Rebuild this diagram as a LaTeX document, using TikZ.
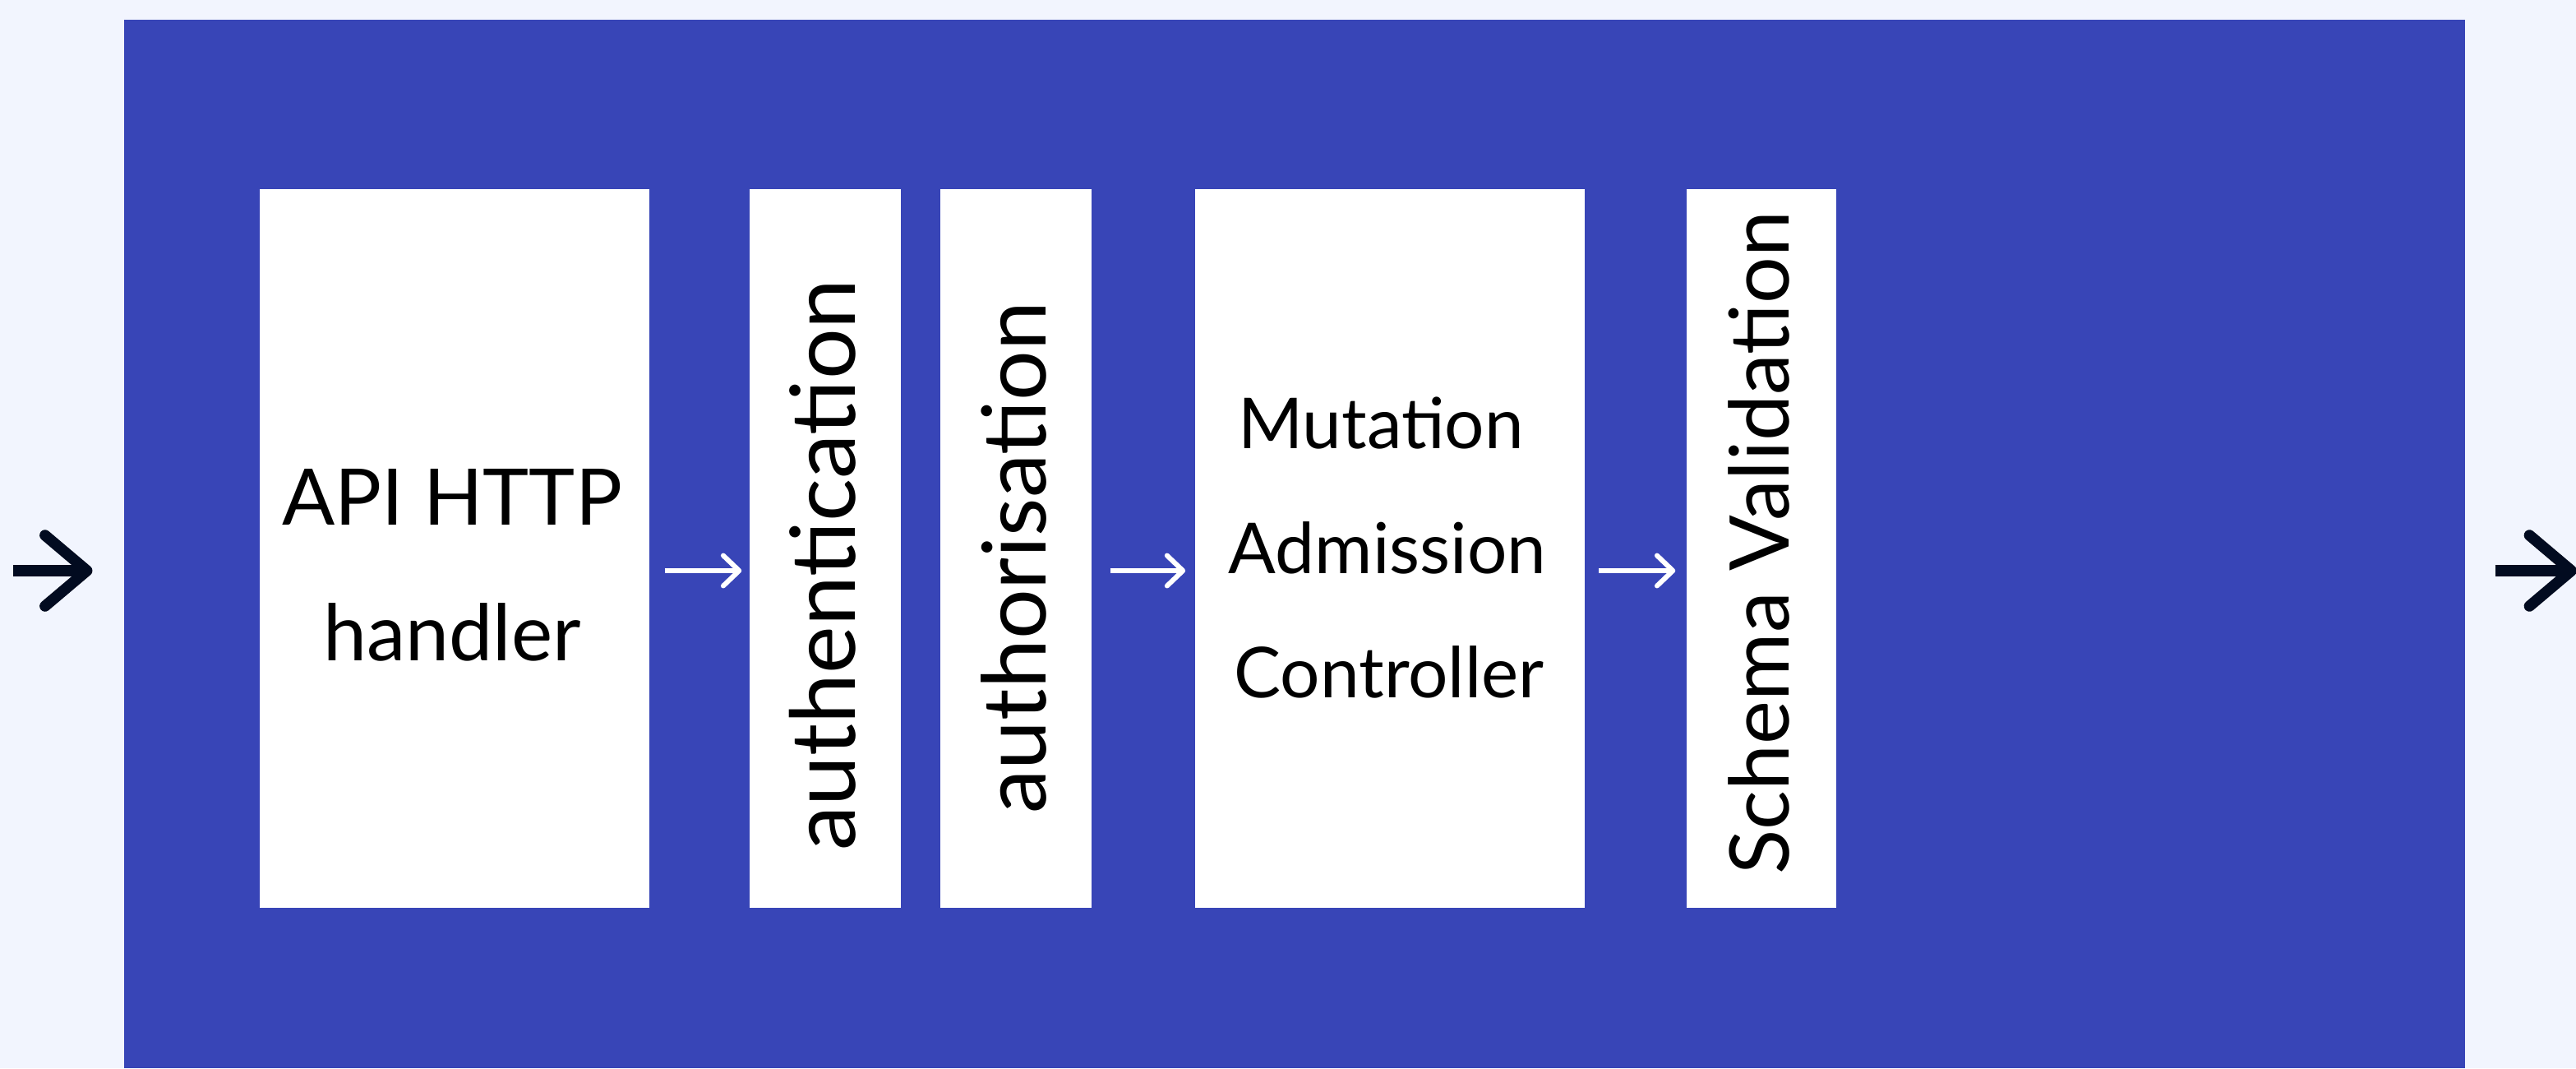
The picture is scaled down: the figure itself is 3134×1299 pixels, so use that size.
\documentclass[tikz,border=0pt]{standalone}
\usepackage{fontspec}
\setmainfont{Lato}
\usetikzlibrary{arrows.meta,calc}
\definecolor{pagebg}{HTML}{F2F5FE}
\definecolor{panel}{HTML}{3845B7}
\definecolor{ink}{HTML}{020B20}
\tikzset{
  stage/.style={fill=white, draw=none, inner sep=0pt, minimum height=8.74cm},
  widestage/.style={stage, minimum width=4.74cm},
  slimstage/.style={stage, minimum width=1.84cm},
  flow/.style={white, line width=1.7pt, -{Straight Barb[length=5.5pt,width=10.5pt,round]}},
  bigflow/.style={ink, line width=3.8pt, -{Straight Barb[length=14.5pt,width=24.5pt,round]}},
  hlabel/.style={inner sep=0pt, anchor=base, text=black},
  vlabel/.style={inner sep=0pt, rotate=90, text=black},
}
\begin{document}
\begin{tikzpicture}[x=0.01cm, y=-0.01cm]
  % page and panel
  \useasboundingbox[fill=pagebg] (0,0) rectangle (3134,1299);
  \node[fill=panel, inner sep=0pt, minimum width=28.46cm, minimum height=12.75cm] (frame) at (1575,661.5) {};

  % pipeline stages
  \node[widestage] (api) at (553,667) {};
  \node[slimstage] (authn) at (1004,667) {};
  \node[slimstage] (authz) at (1236,667) {};
  \node[widestage] (mac) at (1691,667) {};
  \node[stage, minimum width=1.82cm] (schema) at (2143,667) {};

  % stage labels
  \node[hlabel, font=\fontsize{27}{32}\selectfont] (apiA) at (550,638) {API HTTP};
  \node[hlabel, font=\fontsize{27}{32}\selectfont] (apiB) at (550,803) {handler};
  \node[hlabel, font=\fontsize{24.3}{28}\selectfont] (macA) at (1680,545) {Mutation};
  \node[hlabel, font=\fontsize{24.3}{28}\selectfont] (macB) at (1688,697) {Admission};
  \node[hlabel, font=\fontsize{24.3}{28}\selectfont] (macC) at (1690,848) {Controller};
  \node[vlabel, font=\fontsize{31}{36}\selectfont] (authnT) at (1001,687) {authentication};
  \node[vlabel, font=\fontsize{30.5}{36}\selectfont] (authzT) at (1233,678) {authorisation};
  \node[vlabel, font=\fontsize{28.5}{34}\selectfont] (schemaT) at (2140,660) {Schema Validation};

  % connectors between stages
  \draw[flow] ($(api.east)+(18,27)$) -- ($(authn.west)+(-9,27)$);
  \draw[flow] ($(authz.east)+(22,27)$) -- ($(mac.west)+(-11,27)$);
  \draw[flow] ($(mac.east)+(16,27)$) -- ($(schema.west)+(-13,27)$);

  % request in and out
  \coordinate (in) at (16,694);
  \coordinate (out) at (3135,694);
  \draw[bigflow] (in) -- ($(frame.west)+(-38,32.5)$);
  \draw[bigflow] ($(frame.east)+(36,32.5)$) -- (out);
\end{tikzpicture}
\end{document}
